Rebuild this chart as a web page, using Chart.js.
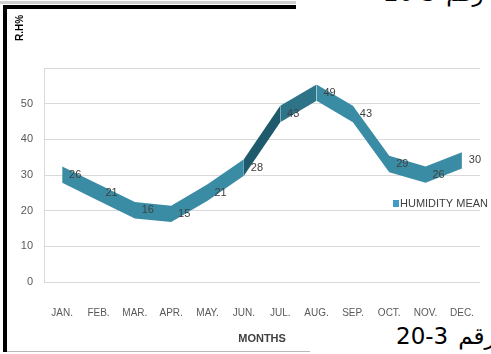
<!DOCTYPE html>
<html>
<head>
<meta charset="utf-8">
<script src="https://cdn.jsdelivr.net/npm/chart.js@4.4.1/dist/chart.umd.min.js"></script>
<style>
  body { margin: 0; width: 491px; height: 354px; overflow: hidden; background: #fff; position: relative; }
  .blk { position: absolute; background: #000; }
  .cap { position: absolute; font-family: 'DejaVu Sans', sans-serif; font-size: 23px; line-height: 23px; white-space: nowrap; color: #000; }
  .cap span { display: inline-block; }
  .cap span + span { margin-left: 10px; }
  #chart { position: absolute; left: 0; top: 0; }
</style>
</head>
<body>
<div style="position:absolute;left:0;top:1px;width:296px;height:3px;background:#d0d0d0"></div>
<div class="blk" style="left:3px;top:5px;width:293px;height:4px"></div>
<div class="blk" style="left:3px;top:5px;width:4px;height:347px"></div>
<div style="position:absolute;left:7px;top:351px;width:303px;height:1px;background:#b8b8b8"></div>
<div class="cap" style="left:384px;top:-18px"><span>20-3</span><span dir="rtl">رقم</span></div>
<div class="cap" style="left:396px;top:325px"><span>20-3</span><span dir="rtl">رقم</span></div>
<canvas id="chart" width="491" height="354"></canvas>
<script>
// monthly mean relative humidity (%)
const months = ['JAN.', 'FEB.', 'MAR.', 'APR.', 'MAY.', 'JUN.', 'JUL.', 'AUG.', 'SEP.', 'OCT.', 'NOV.', 'DEC.'];
const humidityMean = [26, 21, 16, 15, 21, 28, 43, 49, 43, 29, 26, 30];
const seriesName = 'HUMIDITY MEAN';

Chart.defaults.font.family = "'Liberation Sans', Arial, sans-serif";

// ribbon shading, darker on the rising face
function ribbonShade(ctx) {
    const i = ctx.p0DataIndex;
    if (i === 5) return '#1f5a6c';
    if (i === 6) return '#2d7488';
    return '#3a8ca5';
}

const extras = {
    id: 'extras',
    afterDatasetsDraw(chart) {
        const c = chart.ctx;
        const top = chart.getDatasetMeta(0).data;
        const bot = chart.getDatasetMeta(1).data;
        c.save();
        c.font = '11px "Liberation Sans", Arial, sans-serif';
        c.fillStyle = '#404040';
        c.textAlign = 'center';
        c.textBaseline = 'middle';
        humidityMean.forEach((v, i) => {
            c.fillText(v, top[i].x + 13, (top[i].y + bot[i].y) / 2);
        });

        // legend
        c.fillStyle = '#3f9cc4';
        c.fillRect(393, 200, 6, 7);
        c.fillStyle = '#404040';
        c.textAlign = 'left';
        c.fillText(seriesName, 400, 204);

        // y axis title at the top left
        c.translate(20, 28);
        c.rotate(-Math.PI / 2);
        c.textAlign = 'center';
        c.font = 'bold 10px "Liberation Sans", Arial, sans-serif';
        c.fillStyle = '#000';
        c.fillText('R.H%', 0, 0);
        c.restore();
    }
};

new Chart(document.getElementById('chart'), {
    type: 'line',
    data: {
        labels: months,
        datasets: [{
            label: 'top',
            data: humidityMean,
            yAxisID: 'yTop',
            borderColor: 'rgba(0,0,0,0)',
            borderWidth: 0,
            pointRadius: 0,
            fill: false
        }, {
            label: seriesName,
            data: humidityMean,
            yAxisID: 'yBot',
            borderColor: 'rgba(0,0,0,0)',
            borderWidth: 0,
            pointRadius: 0,
            backgroundColor: '#3a8ca5',
            fill: '-1',
            segment: { backgroundColor: ribbonShade }
        }]
    },
    options: {
        responsive: false,
        animation: false,
        devicePixelRatio: 1,
        layout: { padding: { left: 0, right: 3, top: 68, bottom: 0 } },
        plugins: { legend: { display: false }, tooltip: { enabled: false } },
        scales: {
            x: {
                offset: true,
                grid: { display: false },
                border: { display: false },
                ticks: { color: '#595959', font: { size: 10 }, padding: 17, maxRotation: 0, autoSkip: false },
                title: { display: true, text: 'MONTHS', color: '#404040', font: { size: 11, weight: 'bold' }, padding: { top: 0, bottom: 8 } },
                afterFit(s) { s.height = 72; }
            },
            y: {
                min: 0,
                max: 60,
                ticks: { stepSize: 10, color: '#595959', font: { size: 11 }, padding: 11, callback: v => v === 60 ? '' : v },
                grid: { color: '#d9d9d9', drawTicks: false },
                border: { color: '#d9d9d9' },
                afterFit(s) { s.width = 44; }
            },
            yTop: { display: false, min: -6.4, max: 53.6 },
            yBot: { display: false, min: -1.8, max: 58.2 }
        }
    },
    plugins: [extras]
});
</script>
</body>
</html>
